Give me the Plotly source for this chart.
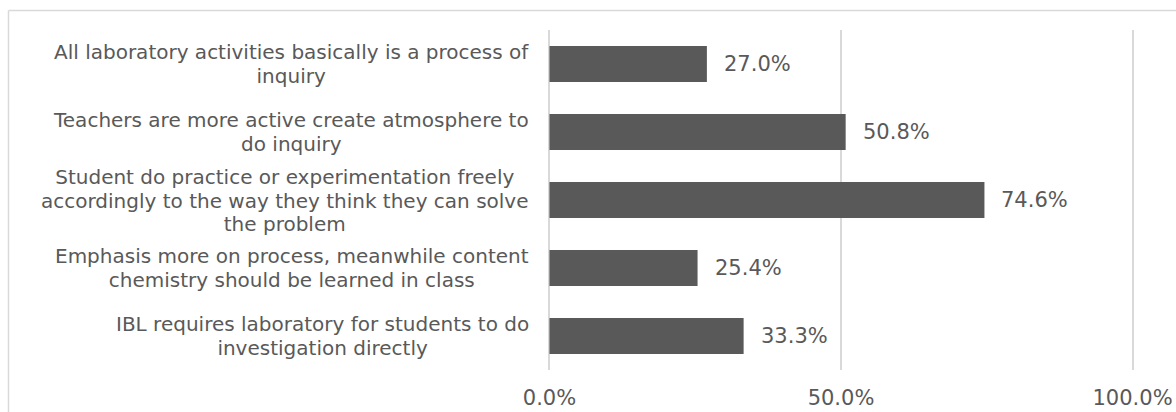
import plotly.graph_objects as go

categories = [
    "All laboratory activities basically is a process of<br>inquiry",
    "Teachers are more active create atmosphere to<br>do inquiry",
    "Student do practice or experimentation freely<br>accordingly to the way they think they can solve<br>the problem",
    "Emphasis more on process, meanwhile content<br>chemistry should be learned in class",
    "IBL requires laboratory for students to do<br>investigation directly",
]
values = [27.0, 50.8, 74.6, 25.4, 33.3]
tick_vals = [0, 50, 100]
tick_text = ["0.0%", "50.0%", "100.0%"]

W, H = 1176, 412
L, R, T, B = 548, 42, 30, 42
pw, ph = W - L - R, H - T - B

FONT = "DejaVu Sans, Verdana, sans-serif"
TXT = "#595959"
GRID = "#d9d9d9"

ids = list(range(len(categories)))

fig = go.Figure(go.Bar(
    x=values, y=ids, orientation="h",
    marker=dict(color="#595959", line=dict(width=0)),
    width=0.53,
    hoverinfo="skip",
))

# category labels (centered lines, right edge next to the axis)
for i, c in enumerate(categories):
    lines = c.split("<br>")
    txt = "<br>".join(f'<span style="font-size:20px">{ln}</span>' for ln in lines)
    fig.add_annotation(
        x=(531 - L) / pw, xref="paper", y=i, yref="y",
        text=txt, showarrow=False, xanchor="right", yanchor="middle",
        align="center", font=dict(family=FONT, size=18.1, color=TXT),
    )

# value labels
for i, v in enumerate(values):
    fig.add_annotation(
        x=v, xref="x", y=i, yref="y", text=f"{v:.1f}%",
        showarrow=False, xanchor="left", yanchor="middle", xshift=15,
        font=dict(family=FONT, size=21, color=TXT),
    )

# chart frame (partially cropped)
ytop = 1 + (T - 10.5) / ph
xleft = (8.5 - L) / pw
fig.add_shape(type="line", xref="paper", yref="paper",
              x0=xleft, x1=(W + 10 - L) / pw, y0=ytop, y1=ytop,
              line=dict(color=GRID, width=1.5))
fig.add_shape(type="line", xref="paper", yref="paper",
              x0=xleft, x1=xleft, y0=ytop, y1=-(B + 10) / ph,
              line=dict(color=GRID, width=1.5))

fig.update_layout(
    width=W, height=H,
    margin=dict(l=L, r=R, t=T, b=B, pad=0, autoexpand=False),
    plot_bgcolor="white", paper_bgcolor="white",
    showlegend=False,
    xaxis=dict(range=[-0.25, 100.25], tickvals=tick_vals, ticktext=tick_text,
               showgrid=True, gridcolor=GRID, gridwidth=2,
               zeroline=False, showline=False, ticks="",
               automargin=False,
               ticklabelstandoff=13,
               tickfont=dict(family=FONT, size=21, color=TXT)),
    yaxis=dict(range=[len(categories) - 0.5, -0.5], showticklabels=False,
               automargin=False,
               showgrid=False, zeroline=False, showline=False, ticks=""),
)

fig.write_html("out.html")
